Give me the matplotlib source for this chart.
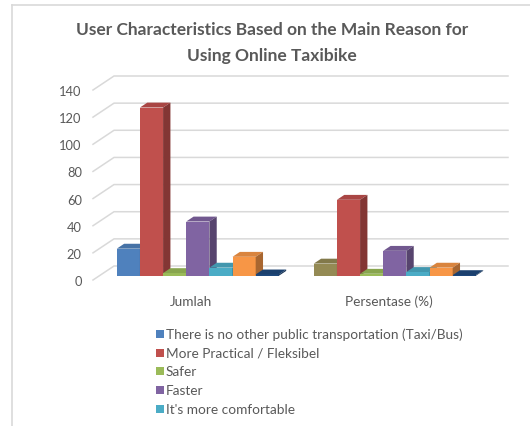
import matplotlib
matplotlib.use("Agg")
import matplotlib.pyplot as plt
from matplotlib.patches import Polygon, Rectangle
from matplotlib.lines import Line2D
from matplotlib.colors import to_rgb

# ---- data -------------------------------------------------------------
categories = ["Jumlah", "Persentase (%)"]
legend_labels = [
    "There is no other public transportation (Taxi/Bus)",
    "More Practical / Fleksibel",
    "Safer",
    "Faster",
    "It's more comfortable",
]
jumlah = [20, 124, 2, 40, 6, 14, 1]
persentase = [9, 56, 1.5, 18.4, 2.8, 6, 0.5]
yticks = [0, 20, 40, 60, 80, 100, 120, 140]

series_colors = ["#4F81BD", "#C0504D", "#9BBB59", "#8064A2",
                 "#4BACC6", "#F79646", "#1F497D"]
group_colors = [series_colors, ["#948A54"] + series_colors[1:]]

TEXT = "#595959"
GRID = "#d9d9d9"
FONT = "Lato"

W, H = 530, 427
fig = plt.figure(figsize=(W / 100, H / 100), dpi=100)

# front plane of the 3-D box
ax = fig.add_axes([93 / W, (H - 281) / H, 394 / W, 190 / H])
ax.set_xlim(-0.5, 1.5)
ax.set_ylim(0, 140)
for s in ax.spines.values():
    s.set_visible(False)
ax.patch.set_alpha(0)

px_x = 394 / 2.0          # pixels per x unit
px_y = 190 / 140.0        # pixels per value unit
dxW, dyW = 21 / px_x, 14 / px_y      # full depth of the box
d0, dd = 0.3, 0.35                   # bar depth position / thickness
w = 23.15 / px_x

# back wall gridlines with the left-wall diagonal
for t in yticks:
    ax.plot([-0.5, -0.5 + dxW, 1.5 + dxW], [t, t + dyW, t + dyW],
            color=GRID, lw=1.1, clip_on=False, zorder=0)


def shade(c, f):
    r, g, b = to_rgb(c)
    return (r * f, g * f, b * f)


z = 2
for g, vals in enumerate([jumlah, persentase]):
    for i, v in enumerate(vals):
        c = group_colors[g][i]
        x0 = g + (i - 3.5) * w + d0 * dxW
        y0 = d0 * dyW
        x1, y1 = x0 + w, y0 + v
        ddx, ddy = dd * dxW, dd * dyW
        ax.bar(x0, v, width=w, bottom=y0, align="edge", color=c,
               zorder=z, linewidth=0)
        ax.add_patch(Polygon([(x0, y1), (x1, y1), (x1 + ddx, y1 + ddy),
                              (x0 + ddx, y1 + ddy)], closed=True,
                             facecolor=shade(c, 0.88), lw=0, zorder=z,
                             clip_on=False))
        ax.add_patch(Polygon([(x1, y0), (x1 + ddx, y0 + ddy),
                              (x1 + ddx, y1 + ddy), (x1, y1)], closed=True,
                             facecolor=shade(c, 0.68), lw=0, zorder=z,
                             clip_on=False))
        z += 1

ax.set_yticks(yticks)
ax.set_yticklabels([str(t) for t in yticks], fontsize=9.3, color=TEXT,
                   family=FONT)
ax.set_xticks([0, 1])
ax.set_xticklabels(categories, fontsize=9.8, color=TEXT, family=FONT)
ax.tick_params(axis="both", length=0)
ax.tick_params(axis="y", pad=8)
ax.tick_params(axis="x", pad=10.5)

# chart frame
fig.add_artist(Line2D([12 / W, 12 / W], [0, 1 - 6 / H],
                      transform=fig.transFigure, color=GRID, lw=1.2))
fig.add_artist(Line2D([12 / W, 1], [1 - 6 / H, 1 - 6 / H],
                      transform=fig.transFigure, color=GRID, lw=1.2))

# title
fig.text(272 / W, 1 - 30 / H,
         "User Characteristics Based on the Main Reason for",
         ha="center", va="center", fontsize=12.5, fontweight="bold",
         color=TEXT, family=FONT)
fig.text(272 / W, 1 - 56 / H, "Using Online Taxibike",
         ha="center", va="center", fontsize=12.5, fontweight="bold",
         color=TEXT, family=FONT)

# legend
for i, lab in enumerate(legend_labels):
    yc = 335 + i * 18.7
    fig.patches.append(Rectangle((156 / W, 1 - (yc + 4) / H), 8 / W, 8 / H,
                                 transform=fig.transFigure,
                                 facecolor=series_colors[i], lw=0))
    fig.text(166 / W, 1 - yc / H, lab, ha="left", va="center",
             fontsize=9.8, color=TEXT, family=FONT)

fig.savefig("out.png", dpi=100)
